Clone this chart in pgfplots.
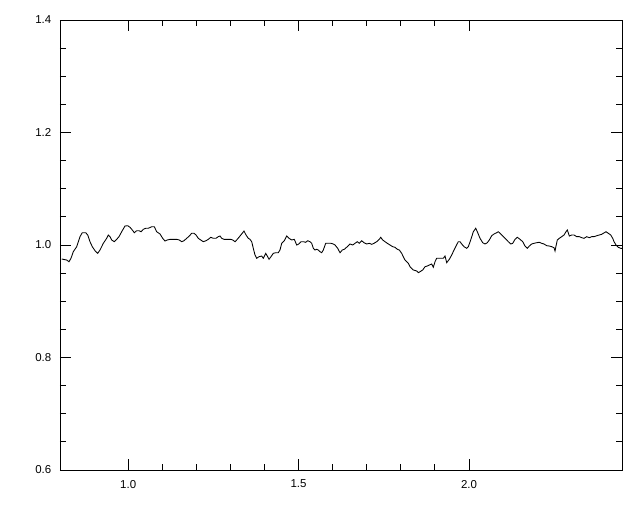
\documentclass[border=0pt]{standalone}
\usepackage{fontspec}
\setmainfont{Liberation Sans}
\usepackage{pgfplots}
\pgfplotsset{compat=1.18}
\begin{document}
\begin{tikzpicture}
\useasboundingbox (-45pt,-31.5pt) rectangle (435pt,352.5pt);
\begin{axis}[
  anchor=south west, at={(0,0)},
  scale only axis, width=421.5pt, height=337.5pt,
  xmin=0.8, xmax=2.449, ymin=0.6, ymax=1.4,
  xtick={1.0,1.5,2.0}, ytick={0.6,0.8,1.0,1.2,1.4},
  minor x tick num=4, minor y tick num=3,
  tick align=inside,
  major tick length=8pt, minor tick length=4.5pt,
  axis line style={line width=0.7pt},
  every tick/.style={black, line width=0.6pt},
  /pgf/number format/assume math mode=true,
  /pgf/number format/fixed, /pgf/number format/fixed zerofill, /pgf/number format/precision=1,
  tick label style={font=\fontsize{8.6}{10}\selectfont},
  xticklabel style={yshift=-4pt},
  yticklabel style={xshift=-3pt},
]
\addplot[black, line width=0.65pt] coordinates {
(0.8050,0.9751)(0.8197,0.9733)(0.8264,0.9703)(0.8323,0.9764)(0.8390,0.9881)(0.8490,0.9970)
(0.8587,1.0148)(0.8654,1.0219)(0.8754,1.0219)(0.8813,1.0178)(0.8880,1.0059)(0.8948,0.9970)
(0.9027,0.9899)(0.9106,0.9852)(0.9174,0.9911)(0.9271,1.0030)(0.9370,1.0119)(0.9417,1.0178)
(0.9467,1.0148)(0.9517,1.0089)(0.9593,1.0059)(0.9664,1.0101)(0.9731,1.0148)(0.9810,1.0236)
(0.9907,1.0338)(0.9986,1.0343)(1.0054,1.0315)(1.0121,1.0267)(1.0180,1.0219)(1.0251,1.0254)
(1.0318,1.0254)(1.0377,1.0236)(1.0444,1.0279)(1.0515,1.0297)(1.0591,1.0297)(1.0691,1.0325)
(1.0767,1.0325)(1.0837,1.0236)(1.0934,1.0196)(1.1013,1.0119)(1.1081,1.0071)(1.1148,1.0089)
(1.1228,1.0101)(1.1324,1.0101)(1.1424,1.0101)(1.1500,1.0089)(1.1571,1.0059)(1.1638,1.0076)
(1.1718,1.0119)(1.1794,1.0160)(1.1864,1.0208)(1.1932,1.0208)(1.1991,1.0178)(1.2058,1.0119)
(1.2129,1.0089)(1.2205,1.0059)(1.2284,1.0076)(1.2352,1.0101)(1.2422,1.0137)(1.2498,1.0119)
(1.2577,1.0119)(1.2645,1.0148)(1.2695,1.0160)(1.2745,1.0119)(1.2812,1.0101)(1.2909,1.0101)
(1.3009,1.0101)(1.3068,1.0089)(1.3135,1.0059)(1.3202,1.0101)(1.3282,1.0160)(1.3361,1.0219)
(1.3399,1.0249)(1.3458,1.0178)(1.3525,1.0119)(1.3575,1.0101)(1.3625,1.0059)(1.3672,0.9941)
(1.3722,0.9822)(1.3772,0.9764)(1.3839,0.9792)(1.3918,0.9804)(1.3965,0.9764)(1.4036,0.9852)
(1.4094,0.9792)(1.4133,0.9746)(1.4191,0.9792)(1.4259,0.9852)(1.4329,0.9863)(1.4405,0.9863)
(1.4455,0.9911)(1.4505,1.0030)(1.4581,1.0076)(1.4652,1.0160)(1.4719,1.0119)(1.4798,1.0089)
(1.4875,1.0101)(1.4945,1.0000)(1.4992,1.0012)(1.5072,1.0059)(1.5139,1.0059)(1.5209,1.0048)
(1.5268,1.0076)(1.5336,1.0059)(1.5386,1.0030)(1.5433,0.9941)(1.5482,0.9911)(1.5532,0.9924)
(1.5579,0.9911)(1.5629,0.9881)(1.5679,0.9863)(1.5726,0.9911)(1.5796,1.0030)(1.5873,1.0030)
(1.5952,1.0030)(1.6019,1.0018)(1.6069,1.0000)(1.6148,0.9941)(1.6216,0.9863)(1.6283,0.9911)
(1.6342,0.9924)(1.6430,0.9970)(1.6509,1.0018)(1.6588,1.0000)(1.6656,1.0030)(1.6723,1.0059)
(1.6782,1.0030)(1.6853,1.0076)(1.6920,1.0041)(1.6999,1.0018)(1.7076,1.0030)(1.7146,1.0012)
(1.7213,1.0030)(1.7292,1.0059)(1.7369,1.0101)(1.7410,1.0137)(1.7469,1.0089)(1.7536,1.0059)
(1.7604,1.0030)(1.7683,1.0000)(1.7762,0.9970)(1.7830,0.9959)(1.7897,0.9924)(1.7956,0.9911)
(1.8026,0.9852)(1.8073,0.9792)(1.8123,0.9733)(1.8173,0.9703)(1.8220,0.9675)(1.8270,0.9614)
(1.8367,0.9556)(1.8467,0.9538)(1.8514,0.9508)(1.8563,0.9525)(1.8643,0.9556)(1.8710,0.9614)
(1.8778,0.9627)(1.8836,0.9644)(1.8907,0.9662)(1.8954,0.9604)(1.9004,0.9703)(1.9053,0.9764)
(1.9130,0.9764)(1.9171,0.9764)(1.9247,0.9764)(1.9297,0.9804)(1.9347,0.9685)(1.9423,0.9746)
(1.9494,0.9822)(1.9561,0.9911)(1.9620,0.9982)(1.9687,1.0059)(1.9737,1.0059)(1.9787,1.0018)
(1.9855,0.9970)(1.9934,0.9941)(1.9981,0.9970)(2.0051,1.0089)(2.0128,1.0236)(2.0198,1.0297)
(2.0245,1.0236)(2.0324,1.0119)(2.0403,1.0041)(2.0471,1.0018)(2.0538,1.0041)(2.0597,1.0089)
(2.0667,1.0165)(2.0735,1.0196)(2.0814,1.0219)(2.0861,1.0236)(2.0931,1.0196)(2.1008,1.0148)
(2.1087,1.0101)(2.1154,1.0059)(2.1225,1.0018)(2.1283,1.0030)(2.1351,1.0101)(2.1419,1.0137)
(2.1498,1.0101)(2.1577,1.0059)(2.1644,0.9982)(2.1712,0.9941)(2.1771,0.9982)(2.1841,1.0018)
(2.1908,1.0030)(2.1987,1.0041)(2.2064,1.0048)(2.2134,1.0030)(2.2201,1.0018)(2.2281,0.9988)
(2.2357,0.9982)(2.2428,0.9970)(2.2495,0.9952)(2.2525,0.9893)(2.2554,0.9982)(2.2592,1.0089)
(2.2651,1.0119)(2.2721,1.0148)(2.2789,1.0178)(2.2847,1.0236)(2.2886,1.0267)(2.2945,1.0160)
(2.3015,1.0178)(2.3082,1.0178)(2.3162,1.0148)(2.3238,1.0148)(2.3309,1.0130)(2.3376,1.0119)
(2.3455,1.0148)(2.3531,1.0130)(2.3601,1.0148)(2.3669,1.0148)(2.3748,1.0165)(2.3824,1.0178)
(2.3895,1.0190)(2.3942,1.0208)(2.4021,1.0236)(2.4089,1.0208)(2.4159,1.0178)(2.4218,1.0119)
(2.4256,1.0059)(2.4315,1.0000)(2.4382,0.9959)(2.4453,0.9941)(2.4491,0.9941)
};
\end{axis}
\end{tikzpicture}
\end{document}
